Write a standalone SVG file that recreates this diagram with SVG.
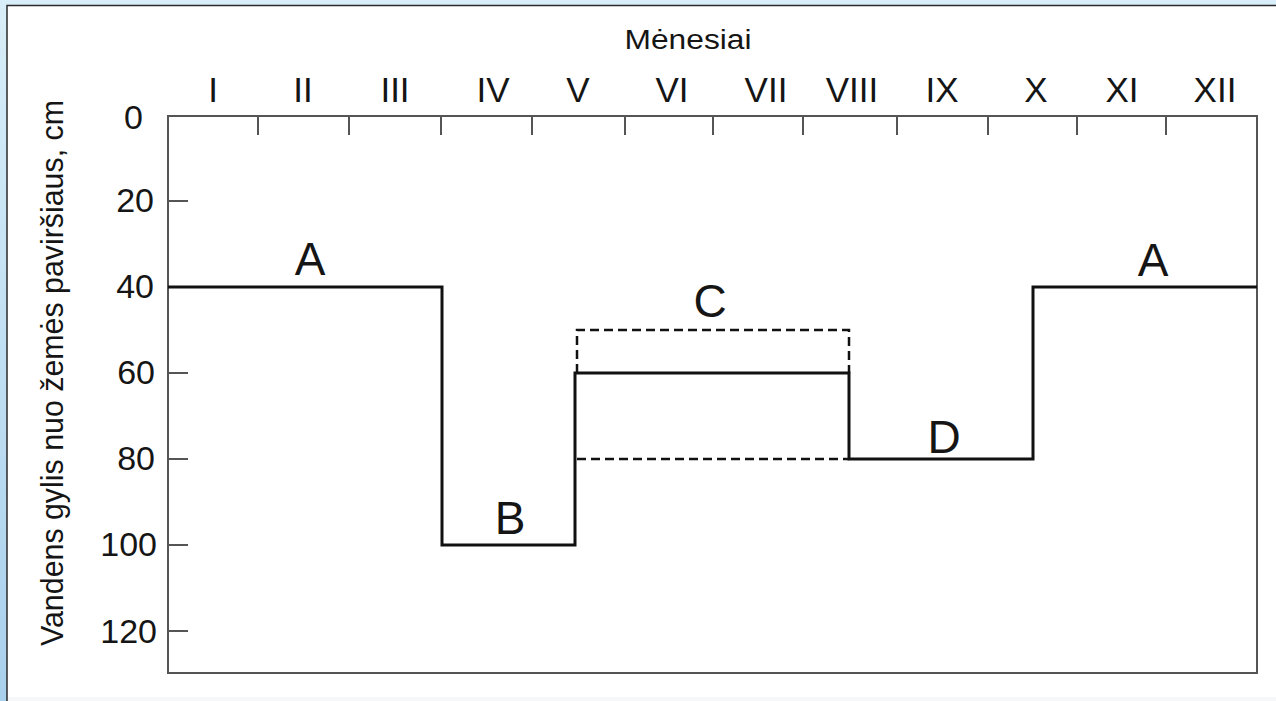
<svg xmlns="http://www.w3.org/2000/svg" width="1276" height="701" viewBox="0 0 1276 701">
  <defs>
    <linearGradient id="bgGrad" x1="0" y1="0" x2="0" y2="1">
      <stop offset="0" stop-color="#d8eef8"/>
      <stop offset="1" stop-color="#a9d0ec"/>
    </linearGradient>
    <style>
      .txt { font-family: "Liberation Sans", Arial, sans-serif; fill: #151515; }
      .month { font-size: 35px; text-anchor: middle; }
      .num { font-size: 34px; text-anchor: end; }
      .lbl { font-size: 46px; text-anchor: middle; }
      .axis { fill: none; stroke: #555; stroke-width: 2; }
      .tick { fill: none; stroke: #555; stroke-width: 2; }
      .step { fill: none; stroke: #111; stroke-width: 3; stroke-linejoin: miter; }
      .dash { fill: none; stroke: #111; stroke-width: 2.5; stroke-dasharray: 9 5; }
    </style>
  </defs>

  <g id="background">
    <rect x="0" y="0" width="1276" height="701" fill="url(#bgGrad)"/>
    <rect x="7" y="5.5" width="1290" height="700" fill="#ffffff" stroke="#2a2a2a" stroke-width="1.5"/>
    <rect x="8" y="697" width="1268" height="4" fill="#f5f7f8"/>
  </g>

  <g id="axes">
    <rect class="axis" x="168" y="116" width="1089" height="557"/>
    <g id="top-ticks">
      <path class="tick" d="M258 116V135 M349 116V135 M441 116V135 M532 116V135 M625 116V135 M713 116V135 M803 116V135 M897 116V135 M988 116V135 M1077 116V135 M1166 116V135"/>
    </g>
    <g id="left-ticks">
      <path class="tick" d="M168 201H188 M168 287H188 M168 373H188 M168 459H188 M168 545H188 M168 631H188"/>
    </g>
  </g>

  <g id="month-labels" class="txt month">
    <text x="688" y="49" style="font-size:27px" textLength="127" lengthAdjust="spacingAndGlyphs">Mėnesiai</text>
    <text x="213" y="102">I</text>
    <text x="303" y="102">II</text>
    <text x="395" y="102">III</text>
    <text x="493" y="102">IV</text>
    <text x="578" y="102">V</text>
    <text x="672" y="102">VI</text>
    <text x="766" y="102">VII</text>
    <text x="852" y="102">VIII</text>
    <text x="942" y="102">IX</text>
    <text x="1036" y="102">X</text>
    <text x="1122" y="102">XI</text>
    <text x="1215" y="102">XII</text>
  </g>

  <g id="depth-labels" class="txt num">
    <text x="143" y="129">0</text>
    <text x="154" y="212">20</text>
    <text x="154" y="298">40</text>
    <text x="155" y="384">60</text>
    <text x="155" y="470">80</text>
    <text x="157" y="556">100</text>
    <text x="157" y="643">120</text>
  </g>

  <g id="y-title">
    <text class="txt" transform="translate(63,646) rotate(-90)" style="font-size:31px" textLength="546" lengthAdjust="spacingAndGlyphs">Vandens gylis nuo žemės paviršiaus, cm</text>
  </g>

  <g id="connectors">
    <path id="water-level" class="step" d="M168 287H442V545H575V373H849V459H1033V287H1257"/>
    <path id="range-C-top" class="dash" d="M577 373V330H849V373"/>
    <path id="range-C-bottom" class="dash" d="M577 459H849"/>
  </g>

  <g id="phase-A1"><text class="txt lbl" x="310" y="275">A</text></g>
  <g id="phase-B"><text class="txt lbl" x="510" y="534">B</text></g>
  <g id="phase-C"><text class="txt lbl" x="710" y="317">C</text></g>
  <g id="phase-D"><text class="txt lbl" x="944" y="453">D</text></g>
  <g id="phase-A2"><text class="txt lbl" x="1153" y="276">A</text></g>
</svg>
